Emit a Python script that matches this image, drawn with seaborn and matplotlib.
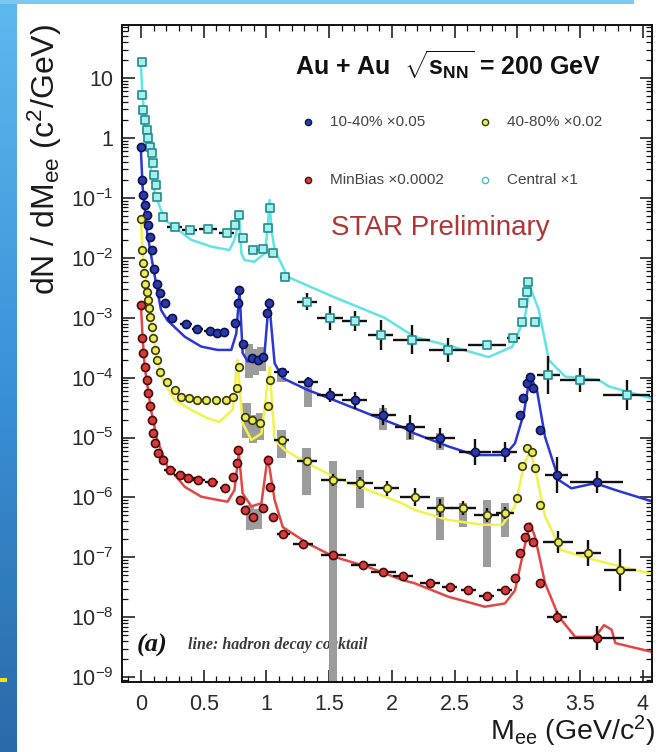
import numpy as np
import matplotlib
matplotlib.use("Agg")
import matplotlib.pyplot as plt
import seaborn as sns
from matplotlib.patches import Rectangle
from matplotlib.lines import Line2D
from matplotlib.ticker import LogLocator, FuncFormatter, MultipleLocator, NullFormatter

# ---------------- measured spectra (already multiplied by the quoted scale factors) ----------------
central_x = [0.006, 0.010, 0.018, 0.032, 0.045, 0.058, 0.072, 0.085, 0.098, 0.106, 0.120, 0.130,
             0.178, 0.27, 0.39, 0.536, 0.683, 0.749, 0.783, 0.815, 0.89, 0.97, 1.01, 1.028, 1.054,
             1.147, 1.32, 1.506, 1.705, 1.91, 2.157, 2.449, 2.755, 2.967, 3.033, 3.046, 3.073, 3.086,
             3.139, 3.245, 3.498, 3.87]
central_y = [18.8, 5.2, 2.9, 2.0, 1.36, 0.99, 0.72, 0.56, 0.38, 0.24, 0.164, 0.105,
             0.0485, 0.033, 0.029, 0.030, 0.0257, 0.0354, 0.052, 0.0212, 0.0135, 0.0139, 0.031, 0.067, 0.0119,
             0.0048, 0.00185, 1.0e-3, 8.8e-4, 5.2e-4, 4.3e-4, 2.9e-4, 3.5e-4, 4.5e-4, 8.6e-4, 1.74e-3, 2.7e-3, 4.0e-3,
             8.6e-4, 1.1e-4, 9.1e-5, 5.1e-5]
central_xw = [0.004, 0.004, 0.004, 0.004, 0.004, 0.004, 0.004, 0.004, 0.004, 0.004, 0.004, 0.004,
              0.02, 0.06, 0.06, 0.07, 0.06, 0.02, 0.01, 0.02, 0.04, 0.03, 0.01, 0.01, 0.015,
              0.04, 0.08, 0.1, 0.1, 0.1, 0.15, 0.15, 0.15, 0.05, 0.01, 0.01, 0.01, 0.01,
              0.01, 0.09, 0.16, 0.19]
central_dlog = [0.02, 0.02, 0.02, 0.02, 0.02, 0.02, 0.02, 0.02, 0.02, 0.02, 0.02, 0.02,
                0.03, 0.04, 0.04, 0.04, 0.04, 0.04, 0.04, 0.05, 0.05, 0.05, 0.04, 0.04, 0.05,
                0.06, 0.14, 0.2, 0.17, 0.25, 0.24, 0.2, 0.05, 0.05, 0.05, 0.05, 0.05, 0.05,
                0.06, 0.32, 0.2, 0.25]

semi_x = [0.002, 0.006, 0.018, 0.032, 0.045, 0.058, 0.072, 0.085, 0.104, 0.125, 0.151, 0.191,
          0.25, 0.359, 0.449, 0.55, 0.608, 0.661, 0.749, 0.775, 0.785, 0.815, 0.882, 0.935, 0.975,
          1.008, 1.02, 1.12, 1.333, 1.506, 1.705, 1.93, 2.143, 2.382, 2.661, 2.9,
          3.02, 3.046, 3.073, 3.1, 3.126, 3.18, 3.312, 3.63]
semi_y = [0.72, 0.20, 0.112, 0.076, 0.052, 0.035, 0.0225, 0.0135, 0.0066, 0.0037, 0.0026, 0.00174,
          1.0e-3, 7.9e-4, 6.6e-4, 5.9e-4, 5.5e-4, 5.7e-4, 8.1e-4, 1.76e-3, 2.9e-3, 3.7e-4, 2.1e-4, 1.96e-4, 2.2e-4,
          1.18e-3, 1.74e-3, 1.26e-4, 8.5e-5, 5.1e-5, 4.2e-5, 2.4e-5, 1.5e-5, 9.8e-6, 5.8e-6, 5.8e-6,
          2.4e-5, 4.5e-5, 8.0e-5, 1.04e-4, 6.6e-5, 1.32e-5, 2.35e-6, 1.8e-6]
semi_xw = [0.004, 0.004, 0.004, 0.004, 0.004, 0.004, 0.004, 0.004, 0.004, 0.004, 0.004, 0.004,
           0.04, 0.045, 0.045, 0.045, 0.03, 0.03, 0.01, 0.01, 0.01, 0.01, 0.02, 0.02, 0.02,
           0.01, 0.01, 0.06, 0.08, 0.1, 0.1, 0.1, 0.12, 0.12, 0.13, 0.1,
           0.01, 0.01, 0.01, 0.01, 0.01, 0.01, 0.09, 0.21]
semi_dlog = [0.02, 0.02, 0.02, 0.02, 0.02, 0.02, 0.02, 0.02, 0.02, 0.02, 0.02, 0.02,
             0.04, 0.04, 0.04, 0.04, 0.04, 0.04, 0.04, 0.04, 0.04, 0.04, 0.04, 0.04, 0.04,
             0.04, 0.04, 0.06, 0.08, 0.12, 0.14, 0.17, 0.2, 0.17, 0.22, 0.17,
             0.05, 0.05, 0.05, 0.05, 0.05, 0.05, 0.3, 0.18]

periph_x = [0.002, 0.006, 0.014, 0.024, 0.034, 0.045, 0.053, 0.064, 0.072, 0.085, 0.098, 0.112, 0.125, 0.151,
            0.205, 0.27, 0.32, 0.38, 0.45, 0.52, 0.60, 0.68, 0.735, 0.763, 0.778, 0.829, 0.884, 0.948,
            1.014, 1.028, 1.12, 1.32, 1.532, 1.745, 1.958, 2.183, 2.382, 2.568, 2.755, 2.9,
            2.994, 3.033, 3.073, 3.113, 3.139, 3.18, 3.325, 3.564, 3.817]
periph_y = [0.044, 0.0135, 0.0081, 0.0055, 0.0037, 0.0027, 0.0020, 0.00144, 0.00104, 7.1e-4, 4.5e-4, 2.9e-4, 1.96e-4, 1.26e-4,
            8.5e-5, 6.2e-5, 4.8e-5, 4.5e-5, 4.3e-5, 4.2e-5, 4.2e-5, 4.2e-5, 4.8e-5, 6.6e-5, 1.5e-4, 2.2e-5, 1.95e-5, 1.73e-5,
            3.3e-5, 9.1e-5, 9.1e-6, 4.0e-6, 1.95e-6, 1.73e-6, 1.42e-6, 1.03e-6, 6.6e-7, 6.6e-7, 5.1e-7, 5.4e-7,
            9.7e-7, 3.3e-6, 6.6e-6, 5.8e-6, 3.1e-6, 7.4e-7, 1.82e-7, 1.17e-7, 6.2e-8]
periph_xw = [0.004, 0.004, 0.004, 0.004, 0.004, 0.004, 0.004, 0.004, 0.004, 0.004, 0.004, 0.004, 0.004, 0.004,
             0.02, 0.02, 0.03, 0.03, 0.03, 0.03, 0.035, 0.035, 0.01, 0.01, 0.01, 0.015, 0.02, 0.02,
             0.01, 0.01, 0.06, 0.08, 0.1, 0.1, 0.1, 0.12, 0.1, 0.1, 0.1, 0.07,
             0.01, 0.01, 0.01, 0.01, 0.01, 0.01, 0.12, 0.1, 0.13]
periph_dlog = [0.02, 0.02, 0.02, 0.02, 0.02, 0.02, 0.02, 0.02, 0.02, 0.02, 0.02, 0.02, 0.02, 0.02,
               0.03, 0.03, 0.03, 0.03, 0.03, 0.03, 0.03, 0.03, 0.05, 0.05, 0.05, 0.05, 0.05, 0.05,
               0.05, 0.05, 0.06, 0.08, 0.1, 0.1, 0.12, 0.15, 0.15, 0.12, 0.12, 0.1,
               0.06, 0.06, 0.06, 0.06, 0.06, 0.06, 0.18, 0.22, 0.35]

minbias_x = [0.0, 0.006, 0.018, 0.032, 0.045, 0.058, 0.072, 0.085, 0.098, 0.112, 0.138, 0.178,
             0.231, 0.311, 0.377, 0.457, 0.563, 0.669, 0.735, 0.763, 0.775, 0.789, 0.829, 0.895, 0.975,
             1.014, 1.028, 1.054, 1.134, 1.293, 1.532, 1.771, 1.931, 2.09, 2.303, 2.462, 2.608, 2.755, 2.9,
             2.98, 3.02, 3.06, 3.086, 3.126, 3.18, 3.312, 3.63]
minbias_y = [1.6e-3, 4.5e-4, 2.6e-4, 1.5e-4, 9.1e-5, 5.5e-5, 3.3e-5, 1.95e-5, 1.17e-5, 8.0e-6, 5.5e-6, 4.2e-6,
             2.9e-6, 2.35e-6, 2.1e-6, 1.95e-6, 1.82e-6, 1.42e-6, 2.2e-6, 3.7e-6, 6.2e-6, 9.1e-7, 6.2e-7, 4.8e-7, 6.6e-7,
             4.2e-6, 1.5e-6, 4.8e-7, 2.5e-7, 1.7e-7, 1.1e-7, 7.4e-8, 5.8e-8, 4.8e-8, 3.7e-8, 3.2e-8, 2.8e-8, 2.3e-8, 2.8e-8,
             4.5e-8, 1.17e-7, 2.2e-7, 3.2e-7, 1.8e-7, 3.7e-8, 1.02e-8, 4.5e-9]
minbias_xw = [0.004, 0.004, 0.004, 0.004, 0.004, 0.004, 0.004, 0.004, 0.004, 0.004, 0.004, 0.004,
              0.05, 0.05, 0.05, 0.05, 0.05, 0.04, 0.01, 0.01, 0.01, 0.01, 0.02, 0.02, 0.02,
              0.01, 0.01, 0.01, 0.05, 0.08, 0.1, 0.1, 0.1, 0.08, 0.08, 0.06, 0.06, 0.06, 0.06,
              0.01, 0.01, 0.01, 0.01, 0.01, 0.01, 0.08, 0.22]
minbias_dlog = [0.02, 0.02, 0.02, 0.02, 0.02, 0.02, 0.02, 0.02, 0.02, 0.02, 0.02, 0.02,
                0.04, 0.04, 0.04, 0.04, 0.04, 0.04, 0.05, 0.05, 0.05, 0.05, 0.05, 0.05, 0.05,
                0.05, 0.05, 0.05, 0.05, 0.05, 0.05, 0.05, 0.05, 0.05, 0.05, 0.05, 0.05, 0.05, 0.05,
                0.05, 0.05, 0.05, 0.05, 0.05, 0.05, 0.1, 0.2]

# ---------------- systematic uncertainty boxes ----------------
semi_sys_x = [0.86, 0.91, 0.96, 1.12, 1.333, 1.93, 2.143, 2.382]
semi_sys_lo = [1.0e-4, 1.1e-4, 1.3e-4, 8.5e-5, 3.2e-5, 1.35e-5, 9.1e-6, 6.2e-6]
semi_sys_hi = [3.7e-4, 3.0e-4, 3.2e-4, 1.45e-4, 8.5e-5, 3.1e-5, 1.73e-5, 1.2e-5]
periph_sys_x = [0.84, 0.89, 0.95, 1.12, 1.32, 1.745, 2.382, 2.568, 2.755, 2.9]
periph_sys_lo = [9.8e-6, 8.0e-6, 9.0e-6, 4.6e-6, 1.1e-6, 6.6e-7, 1.95e-7, 3.2e-7, 6.9e-8, 2.2e-7]
periph_sys_hi = [3.8e-5, 2.4e-5, 2.6e-5, 1.35e-5, 6.6e-6, 2.9e-6, 1.0e-6, 8.1e-7, 9.1e-7, 8.1e-7]
minbias_sys_x = [0.87, 0.93, 1.532]
minbias_sys_lo = [2.9e-7, 3.0e-7, 1e-10]
minbias_sys_hi = [7.4e-7, 6.5e-7, 4.0e-6]

# ---------------- hadron decay cocktails ----------------
central_ck_x = [0.0, 0.01, 0.03, 0.06, 0.10, 0.14, 0.19, 0.40, 0.56, 0.705, 0.745, 0.785, 0.80, 0.825, 0.905,
                0.985, 1.01, 1.025, 1.04, 1.065, 1.17, 1.54, 1.94, 2.18, 2.48, 2.77, 2.96, 3.06, 3.10, 3.17,
                3.25, 3.38, 3.65, 3.73, 4.12]
central_ck_y = [16, 6, 2.0, 0.6, 0.15, 0.081, 0.043, 0.020, 0.0154, 0.0135, 0.02, 0.043, 0.012, 0.0092, 0.0086,
                0.0119, 0.03, 0.092, 0.03, 0.0135, 0.0048, 0.0022, 1.0e-3, 4.8e-4, 3.3e-4, 2.2e-4, 3.3e-4, 1.04e-3, 3.3e-3, 1.35e-3,
                1.96e-4, 1.04e-4, 9.1e-5, 7.1e-5, 4.2e-5]
semi_ck_x = [0.0, 0.013, 0.05, 0.106, 0.16, 0.21, 0.35, 0.48, 0.61, 0.72, 0.76, 0.785, 0.81, 0.85, 0.93, 0.985,
             1.02, 1.065, 1.13, 1.33, 1.54, 1.81, 2.08, 2.18, 2.45, 2.66, 2.90, 2.98, 3.05, 3.10, 3.155, 3.22,
             3.33, 3.43, 3.62, 3.78, 4.12]
semi_ck_y = [0.6, 0.155, 0.0257, 0.0055, 0.00135, 9.1e-4, 4.8e-4, 3.3e-4, 2.9e-4, 2.9e-4, 5.5e-4, 2.9e-3, 2.6e-4, 1.86e-4, 1.96e-4, 2.6e-4,
             2.0e-3, 1.74e-4, 9.8e-5, 6.2e-5, 4.2e-5, 2.5e-5, 1.5e-5, 1.17e-5, 7.1e-6, 5.1e-6, 5.1e-6, 8.0e-6, 2.5e-5, 1.1e-4, 6.2e-5, 1.02e-5,
             1.95e-6, 1.42e-6, 1.73e-6, 1.33e-6, 8.0e-7]
periph_ck_x = [0.0, 0.013, 0.05, 0.08, 0.106, 0.16, 0.27, 0.40, 0.53, 0.625, 0.73, 0.77, 0.81, 0.88, 0.96, 1.025,
               1.065, 1.145, 1.33, 1.54, 1.81, 2.08, 2.18, 2.45, 2.72, 2.88, 2.98, 3.05, 3.10, 3.155, 3.22, 3.35,
               3.57, 3.78, 4.12]
periph_ck_y = [0.045, 0.0119, 0.0033, 9.1e-4, 3.7e-4, 1.04e-4, 4.2e-5, 2.9e-5, 2.1e-5, 1.83e-5, 2.9e-5, 1.96e-4, 1.73e-5, 9.1e-6, 1.17e-5, 1.5e-4,
               9.1e-6, 6.2e-6, 3.7e-6, 2.2e-6, 1.33e-6, 8.0e-7, 6.2e-7, 4.2e-7, 3.5e-7, 3.5e-7, 7.1e-7, 3.3e-6, 6.2e-6, 2.2e-6, 4.8e-7, 1.32e-7,
               9.6e-8, 7.4e-8, 5.0e-8]
minbias_ck_x = [0.0, 0.013, 0.03, 0.08, 0.13, 0.21, 0.35, 0.48, 0.61, 0.69, 0.745, 0.78, 0.81, 0.88, 0.96, 1.01,
                1.065, 1.13, 1.33, 1.54, 1.81, 2.08, 2.18, 2.45, 2.74, 2.90, 2.98, 3.05, 3.10, 3.14, 3.22, 3.33,
                3.46, 3.62, 3.69, 3.75, 3.78, 4.12]
minbias_ck_y = [1.6e-3, 4.8e-4, 1.5e-4, 2.9e-5, 9.1e-6, 3.3e-6, 1.5e-6, 1.03e-6, 9.1e-7, 8.5e-7, 1.33e-6, 5.5e-6, 1.17e-6, 7.1e-7, 8.0e-7, 4.8e-6,
                9.1e-7, 3.2e-7, 1.7e-7, 1.02e-7, 6.9e-8, 4.2e-8, 3.7e-8, 2.2e-8, 1.5e-8, 1.7e-8, 2.8e-8, 1.32e-7, 3.7e-7, 2.2e-7, 3.7e-8, 1.02e-8,
                4.7e-9, 4.7e-9, 7.4e-9, 6.2e-9, 3.7e-9, 2.5e-9]

legend_labels = ["10-40% \u00d70.05", "40-80% \u00d70.02", "MinBias \u00d70.0002", "Central \u00d71"]
x_ticks = [0, 0.5, 1, 1.5, 2, 2.5, 3, 3.5, 4]

# ---------------- style ----------------
sns.set_theme(style="ticks")
plt.rcParams["font.family"] = ["Liberation Sans", "DejaVu Sans"]
plt.rcParams["mathtext.fontset"] = "custom"
plt.rcParams["mathtext.rm"] = "Liberation Sans"
plt.rcParams["mathtext.it"] = "Liberation Sans:italic"
plt.rcParams["mathtext.bf"] = "Liberation Sans:bold"

W, H = 658, 752
fig = plt.figure(figsize=(W / 100, H / 100), dpi=100)
fig.patch.set_facecolor("white")


def fx(px):
    return px / W


def fy(py):
    return 1 - py / H


# slide decoration: blue gradient strip on the left, light band on top
bg = fig.add_axes([0, 0, fx(17), 1], zorder=-5)
grad = np.linspace(0, 1, 256).reshape(-1, 1)
cmap = matplotlib.colors.LinearSegmentedColormap.from_list("slide", ["#5db9ef", "#3a92d8", "#2b6aa8"])
bg.imshow(grad, aspect="auto", cmap=cmap, extent=[0, 1, 0, 1], origin="upper")
bg.set_axis_off()
fig.add_artist(Rectangle((0, fy(4)), fx(634), 4 / H, transform=fig.transFigure,
                         facecolor="#7cc8f2", edgecolor="none", zorder=-4))
fig.add_artist(Rectangle((0, fy(682)), fx(7), 4 / H, transform=fig.transFigure,
                         facecolor="#f2e21c", edgecolor="none", zorder=-3))

ax = fig.add_axes([fx(122), fy(682), fx(652) - fx(122), fy(25) - fy(682)])
ax.set_yscale("log")
ax.set_xlim(-0.151, 4.072)
ax.set_ylim(8.3e-10, 77)

series = [
    dict(x=central_x, y=central_y, xw=central_xw, d=central_dlog, ckx=central_ck_x, cky=central_ck_y,
         sx=[], slo=[], shi=[], line="#62e4e6", marker="s", mfc="#a8eeee", mec="#1f8c8c", ms=34),
    dict(x=semi_x, y=semi_y, xw=semi_xw, d=semi_dlog, ckx=semi_ck_x, cky=semi_ck_y,
         sx=semi_sys_x, slo=semi_sys_lo, shi=semi_sys_hi, line="#2a36d6", marker="o", mfc="#2a3aa8", mec="#0c1150", ms=34),
    dict(x=periph_x, y=periph_y, xw=periph_xw, d=periph_dlog, ckx=periph_ck_x, cky=periph_ck_y,
         sx=periph_sys_x, slo=periph_sys_lo, shi=periph_sys_hi, line="#f2f24a", marker="o", mfc="#ecec58", mec="#3a3a08", ms=30),
    dict(x=minbias_x, y=minbias_y, xw=minbias_xw, d=minbias_dlog, ckx=minbias_ck_x, cky=minbias_ck_y,
         sx=minbias_sys_x, slo=minbias_sys_lo, shi=minbias_sys_hi, line="#e24646", marker="o", mfc="#d83a3a", mec="#4a0c0c", ms=34),
]

for s in series:
    for bx, lo, hi in zip(s["sx"], s["slo"], s["shi"]):
        ax.add_patch(Rectangle((bx - 0.033, lo), 0.066, hi - lo, facecolor="#9c9c9c",
                               edgecolor="none", zorder=1.5))
    sns.lineplot(x=s["ckx"], y=s["cky"], sort=False, estimator=None, color=s["line"],
                 lw=1.8, ax=ax, zorder=2)
    y = np.asarray(s["y"])
    d = np.asarray(s["d"])
    ax.errorbar(s["x"], y, xerr=s["xw"], yerr=[y - y * 10 ** (-d), y * 10 ** d - y],
                fmt="none", ecolor="#111111", elinewidth=1.7, capsize=0, zorder=3)
    sns.scatterplot(x=s["x"], y=s["y"], marker=s["marker"], s=s["ms"], color=s["mfc"],
                    edgecolor=s["mec"], linewidth=1.2, ax=ax, zorder=4)

# axes styling in the ROOT manner
for sp in ax.spines.values():
    sp.set_linewidth(1.4)
    sp.set_color("#111111")
ax.set_xticks(x_ticks)
ax.set_xticklabels([f"{t:g}" for t in x_ticks])
ax.xaxis.set_minor_locator(MultipleLocator(0.1))
ax.yaxis.set_major_locator(LogLocator(base=10, numticks=30))
ax.yaxis.set_minor_locator(LogLocator(base=10, subs=np.arange(2, 10), numticks=30))
ax.yaxis.set_minor_formatter(NullFormatter())


def decade_label(v, pos):
    e = int(round(np.log10(v)))
    if e == 0:
        return "1"
    if e == 1:
        return "10"
    return r"$10^{%d}$" % e


ax.yaxis.set_major_formatter(FuncFormatter(decade_label))
ax.tick_params(which="both", direction="in", top=True, right=True, color="#111111")
ax.tick_params(which="major", length=9, width=1.1, labelsize=15.5, labelcolor="#2a2a2a")
ax.tick_params(axis="x", which="major", pad=9)
ax.tick_params(axis="y", which="major", pad=6)
ax.tick_params(which="minor", length=4.5, width=0.9)
ax.set_xlabel("")
ax.set_ylabel("")

# axis titles
fig.text(fx(45), fy(24), r"dN / dM$_{\rm ee}$ (c$^{2}$/GeV)", rotation=90, ha="center", va="top",
         fontsize=23, color="#1a1a1a")
fig.text(fx(655), fy(740), r"M$_{\rm ee}$ (GeV/c$^{2}$)", ha="right", va="baseline",
         fontsize=20.5, color="#1a1a1a")

# header, legend and labels
fig.text(fx(448), fy(65), r"Au + Au  $\sqrt{\mathbf{s}_{\mathbf{NN}}}$ = 200 GeV", ha="center", va="center",
         fontsize=18, fontweight="bold", color="#111111")
leg_pos = [(308, 122), (485, 122), (308, 180), (485, 180)]
leg_style = [series[1], series[2], series[3], series[0]]
for (px, py), lab, s in zip(leg_pos, legend_labels, leg_style):
    fig.add_artist(Line2D([fx(px)], [fy(py)], transform=fig.transFigure, marker="o",
                          markersize=4.5, markerfacecolor=(s["mfc"] if s is not series[0] else "white"),
                          markeredgecolor=(s["mec"] if s is not series[0] else "#50b8c8"), markeredgewidth=1.0,
                          linestyle="none"))
    fig.text(fx(px + 22), fy(py), lab, ha="left", va="center", fontsize=11, color="#444444")
fig.text(fx(440), fy(228), "STAR Preliminary", ha="center", va="center", fontsize=20, color="#b03434")

ax.text(-0.03, 3.4e-9, "(a)", ha="left", va="center", fontsize=19, fontweight="bold",
        fontstyle="italic", family=["Liberation Serif", "DejaVu Serif"], color="#111111", zorder=1)
ax.text(0.375, 3.4e-9, "line: hadron decay cocktail", ha="left", va="center", fontsize=11.5,
        fontweight="bold", fontstyle="italic", family=["Liberation Serif", "DejaVu Serif"],
        color="#3a3a3a", zorder=1)

fig.savefig("out.png", dpi=100)
